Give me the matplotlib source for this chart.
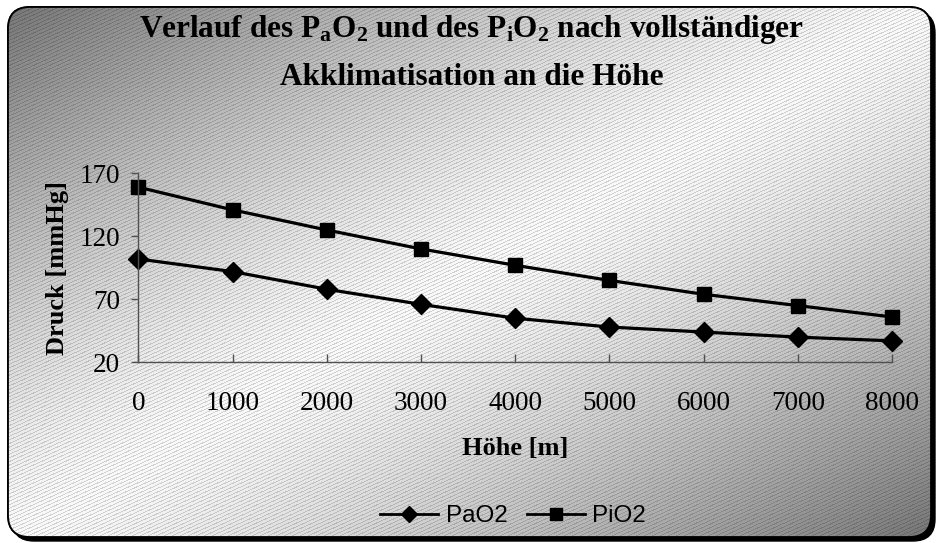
import numpy as np
import matplotlib
matplotlib.use("Agg")
import matplotlib.pyplot as plt
from matplotlib.patches import FancyBboxPatch
from matplotlib.lines import Line2D

# data
hoehe = [0, 1000, 2000, 3000, 4000, 5000, 6000, 7000, 8000]
pao2 = [102, 92, 78, 66, 55, 48, 44, 40, 37]
pio2 = [159, 141, 125, 110, 97, 85, 74, 65, 56]
y_ticks = [20, 70, 120, 170]

plt.rcParams['font.family'] = ['Liberation Serif', 'DejaVu Serif']
plt.rcParams['mathtext.fontset'] = 'custom'
plt.rcParams['mathtext.rm'] = 'Liberation Serif'
plt.rcParams['mathtext.bf'] = 'Liberation Serif:bold'

W, H = 937, 543
fig = plt.figure(figsize=(W / 100, H / 100), dpi=100)

# background: diagonal grey gradient with fine hatch stripes
bg = fig.add_axes([0, 0, 1, 1])
bg.set_xlim(0, W)
bg.set_ylim(H, 0)
bg.axis('off')

xx, yy = np.meshgrid(np.arange(W), np.arange(H))
t = (xx / W + yy / H) / 2.0
light = 250 - 135 * np.abs(2 * t - 1) ** 1.3
stripes = ((yy + 0.45 * xx) % 3.6) < 1.1
light = np.where(stripes, light * 0.84, light)
img = np.clip(light, 0, 255).astype(np.uint8)
rgb = np.dstack([img, img, img])

shadow = FancyBboxPatch((12, 11), 923, 530, boxstyle="round,pad=0,rounding_size=22",
                        facecolor='black', edgecolor='black', lw=1)
bg.add_patch(shadow)
box = FancyBboxPatch((8, 7), 923, 530, boxstyle="round,pad=0,rounding_size=22",
                     facecolor='white', edgecolor='black', lw=1.3, zorder=2)
bg.add_patch(box)
im = bg.imshow(rgb, extent=(0, W, H, 0), zorder=3, interpolation='nearest')
im.set_clip_path(box)
border = FancyBboxPatch((8, 7), 923, 530, boxstyle="round,pad=0,rounding_size=22",
                        facecolor='none', edgecolor='black', lw=1.3, zorder=4)
bg.add_patch(border)

# main plot
ax = fig.add_axes([138.3 / W, 1 - 362.3 / H, (892 - 138.3) / W, 189 / H])
ax.patch.set_alpha(0)
ax.plot(hoehe, pao2, color='black', lw=2.3, marker='D', markersize=10, label='PaO2', clip_on=False)
ax.plot(hoehe, pio2, color='black', lw=2.3, marker='s', markersize=10, label='PiO2', clip_on=False)

ax.set_xlim(0, 8000)
ax.set_ylim(20, 170)
ax.set_xticks(hoehe)
ax.set_yticks(y_ticks)
for s in ['top', 'right']:
    ax.spines[s].set_visible(False)
for s in ['left', 'bottom']:
    ax.spines[s].set_color('#505050')
    ax.spines[s].set_linewidth(1.0)
ax.tick_params(axis='x', direction='in', length=6, width=1, color='#505050', pad=21, labelsize=19.5)
ax.tick_params(axis='y', direction='out', length=5, width=1, color='#505050', pad=8, labelsize=19.5)

ax.set_xlabel('Höhe [m]', fontsize=19, fontweight='bold', labelpad=15)
ax.set_ylabel('Druck [mmHg]', fontsize=19, fontweight='bold', labelpad=8)

fig.text(0.503, 1 - 37 / H, r'Verlauf des $\mathbf{P_aO_2}$ und des $\mathbf{P_iO_2}$ nach vollständiger',
         ha='center', va='baseline', fontsize=22.5, fontweight='bold')
fig.text(0.503, 1 - 85 / H, 'Akklimatisation an die Höhe',
         ha='center', va='baseline', fontsize=22.5, fontweight='bold')

handles = [Line2D([], [], color='black', lw=2, marker='D', markersize=8),
           Line2D([], [], color='black', lw=2, marker='s', markersize=8)]
fig.legend(handles, ['PaO2', 'PiO2'], loc='center', bbox_to_anchor=(513 / W, 1 - 516 / H),
           ncol=2, frameon=False, handlelength=2.4, handletextpad=0.3, columnspacing=0.8,
           prop={'family': 'Liberation Sans', 'size': 17.5})

fig.savefig('out.png', dpi=100)
